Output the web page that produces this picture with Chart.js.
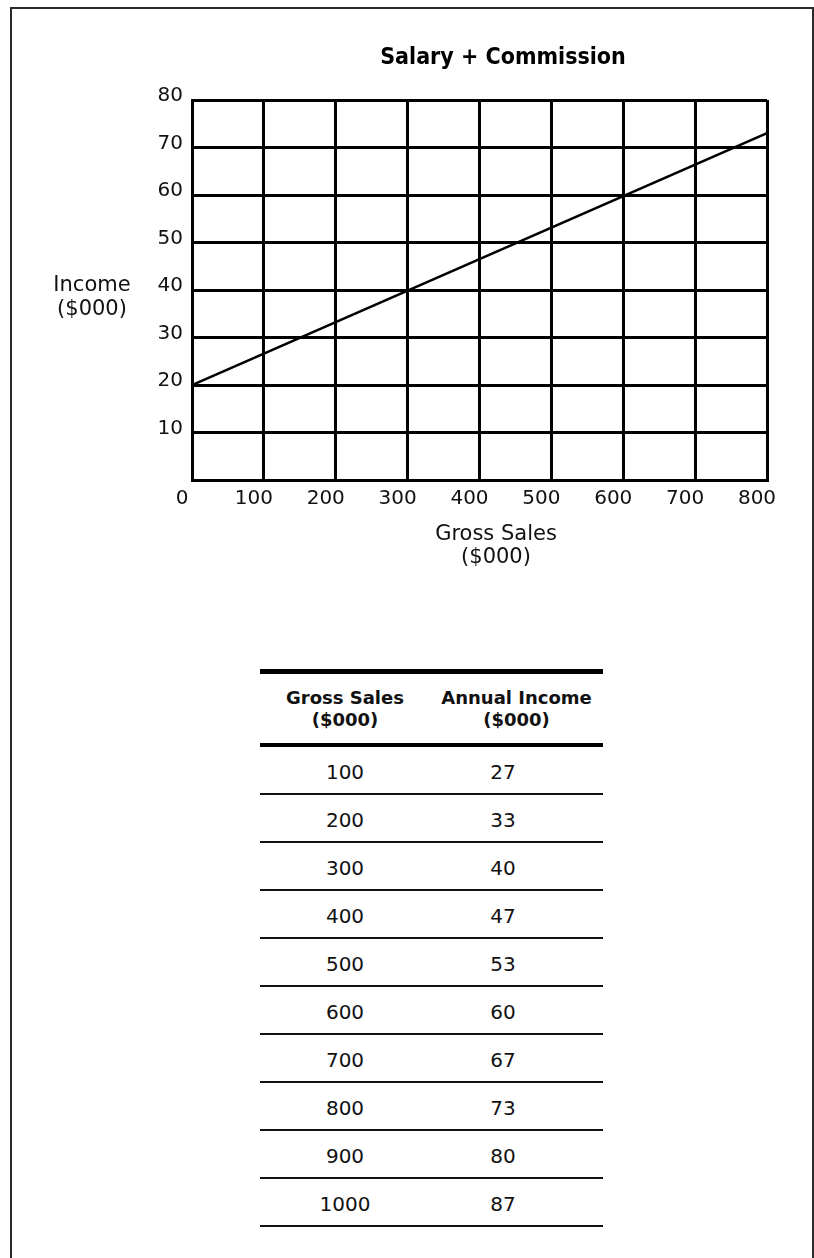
<!DOCTYPE html>
<html>
<head>
<meta charset="utf-8">
<title>Salary + Commission</title>
<script src="https://cdn.jsdelivr.net/npm/chart.js@4/dist/chart.umd.min.js"></script>
<style>
  html, body { margin: 0; padding: 0; background: #fff; }
  body {
    width: 814px; height: 1258px; position: relative; overflow: hidden;
    font-family: "DejaVu Sans", Verdana, sans-serif; color: #111;
  }
  .frame {
    position: absolute; left: 10px; top: 7px; width: 800px; height: 1320px;
    border: 2px solid #2b2b2b; border-bottom: none;
  }
  #chartBox { position: absolute; left: 0; top: 0; width: 814px; height: 600px; }
  #incomeTable {
    position: absolute; left: 260px; top: 669px; width: 343px;
    border-collapse: collapse; border-top: 5px solid #000;
    font-family: "DejaVu Sans", Verdana, sans-serif; color: #111;
  }
  #incomeTable th {
    height: 69px; padding: 0; border-bottom: 4px solid #000;
    font-size: 18px; font-weight: bold; line-height: 22px;
    text-align: center; vertical-align: middle;
  }
  #incomeTable td {
    height: 43px; padding: 3px 0 0 0; border-bottom: 2px solid #111;
    font-size: 20px; text-align: center; vertical-align: middle;
  }
  #incomeTable col.c1 { width: 170px; }
  #incomeTable col.c2 { width: 173px; }
  #incomeTable td.income { padding-right: 27px; }
</style>
</head>
<body>
<div class="frame"></div>
<div id="chartBox"><canvas id="chart" width="814" height="600"></canvas></div>
<table id="incomeTable">
  <colgroup><col class="c1"><col class="c2"></colgroup>
  <thead><tr id="headRow"></tr></thead>
  <tbody id="tableBody"></tbody>
</table>

<script>
// Gross sales and the annual income earned at each level ($000)
const grossSales   = [100, 200, 300, 400, 500, 600, 700, 800, 900, 1000];
const annualIncome = [27, 33, 40, 47, 53, 60, 67, 73, 80, 87];

// Base salary earned with no sales ($000)
const baseSales  = [0];
const baseIncome = [20];

// Axis ticks
const xTicks = [0, 100, 200, 300, 400, 500, 600, 700, 800];
const yTicks = [0, 10, 20, 30, 40, 50, 60, 70, 80];

// Text
const chartTitle   = 'Salary + Commission';
const xAxisTitle   = ['Gross Sales', '($000)'];
const yAxisTitle   = ['Income', '($000)'];
const tableHeaders = [['Gross Sales', '($000)'], ['Annual Income', '($000)']];

// ---- table ----
const headRow = document.getElementById('headRow');
tableHeaders.forEach(lines => {
  const th = document.createElement('th');
  th.innerHTML = lines.join('<br>');
  headRow.appendChild(th);
});
const body = document.getElementById('tableBody');
grossSales.forEach((s, i) => {
  const tr = document.createElement('tr');
  const a = document.createElement('td');
  a.textContent = s;
  const b = document.createElement('td');
  b.className = 'income';
  b.textContent = annualIncome[i];
  tr.appendChild(a); tr.appendChild(b);
  body.appendChild(tr);
});

// ---- chart ----
// Straight income line: from the base salary to the table row at the right edge of the axis
const xMax = xTicks[xTicks.length - 1];
const endIndex = grossSales.indexOf(xMax);
const linePoints = [
  { x: baseSales[0], y: baseIncome[0] },
  { x: grossSales[endIndex], y: annualIncome[endIndex] }
];

const FONT = '"DejaVu Sans", Verdana, sans-serif';
const TITLE_FONT = '"DejaVu Sans Condensed", "DejaVu Sans", Tahoma, sans-serif';
Chart.defaults.color = '#111';
Chart.defaults.font.family = FONT;

// Title and axis captions drawn around the plot
const captions = {
  id: 'captions',
  afterDraw(chart) {
    const { ctx, chartArea: a } = chart;
    ctx.save();
    ctx.textAlign = 'center';
    ctx.textBaseline = 'middle';
    ctx.fillStyle = '#000';
    ctx.font = 'bold 23px ' + TITLE_FONT;
    ctx.fillText(chartTitle, a.left + 311, a.top - 42);
    ctx.fillStyle = '#111';
    ctx.font = '21px ' + FONT;
    yAxisTitle.forEach((t, i) => ctx.fillText(t, a.left - 100, a.top + 186 + i * 24));
    xAxisTitle.forEach((t, i) => ctx.fillText(t, a.left + 304, a.bottom + 55 + i * 23));
    ctx.restore();
  }
};

new Chart(document.getElementById('chart'), {
  type: 'line',
  data: {
    datasets: [{
      data: linePoints,
      borderColor: '#000',
      borderWidth: 2.5,
      pointRadius: 0,
      tension: 0,
      fill: false
    }]
  },
  options: {
    responsive: false,
    animation: false,
    devicePixelRatio: 1,
    layout: { padding: { left: 0, right: 47, top: 100, bottom: 0 } },
    plugins: {
      legend: { display: false },
      tooltip: { enabled: false },
      title: { display: false }
    },
    scales: {
      x: {
        type: 'linear',
        min: xTicks[0],
        max: xMax,
        afterBuildTicks: s => { s.ticks = xTicks.map(v => ({ value: v })); },
        afterFit: s => { s.height = 120; },
        grid: { color: '#000', lineWidth: 3, drawTicks: false },
        border: { display: true, color: '#000', width: 3 },
        ticks: {
          padding: 7,
          labelOffset: -10,
          maxRotation: 0,
          autoSkip: false,
          font: { size: 20, family: FONT },
          color: '#111'
        }
      },
      y: {
        type: 'linear',
        min: yTicks[0],
        max: yTicks[yTicks.length - 1],
        afterBuildTicks: s => { s.ticks = yTicks.map(v => ({ value: v })); },
        afterFit: s => { s.width = 192; },
        grid: { color: '#000', lineWidth: 3, drawTicks: false },
        border: { display: true, color: '#000', width: 3 },
        ticks: {
          padding: 9,
          labelOffset: -4,
          autoSkip: false,
          font: { size: 20, family: FONT },
          color: '#111',
          callback: v => (v === 0 ? '' : v)
        }
      }
    }
  },
  plugins: [captions]
});
</script>
</body>
</html>
